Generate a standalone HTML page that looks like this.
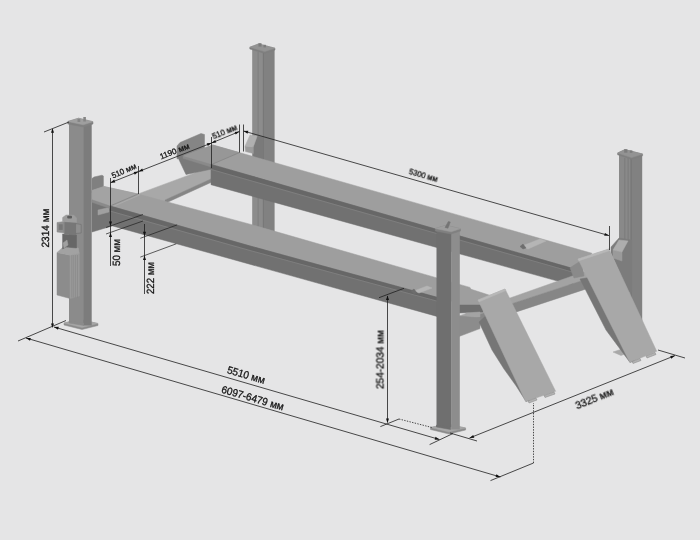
<!DOCTYPE html>
<html lang="ru">
<head>
<meta charset="utf-8">
<title>4-post lift dimensions</title>
<style>
html,body{margin:0;padding:0;background:#e5e5e6;}
body{width:700px;height:540px;overflow:hidden;font-family:"Liberation Sans",sans-serif;}
svg{display:block;-webkit-font-smoothing:antialiased;text-rendering:geometricPrecision;}
</style>
</head>
<body>
<svg width="700" height="540" viewBox="0 0 700 540" font-family="'Liberation Sans', sans-serif">
<rect width="700" height="540" fill="#e5e5e6"/>
<rect x="252.2" y="49.0" width="11.6" height="184.0" fill="#8c8c8c" />
<rect x="263.3" y="50.0" width="11.3" height="183.0" fill="#818181" />
<rect x="257.6" y="52.0" width="1.0" height="181.0" fill="#7e7e7e" />
<rect x="262.8" y="52.0" width="1.1" height="181.0" fill="#777777" />
<polygon points="249.8,47.2 258.6,43.9 275.0,48.2 275.0,50.0 264.6,53.4 249.8,49.0" fill="#7f7f7f" stroke="#7f7f7f" stroke-width="0.5" stroke-linejoin="round"/>
<polygon points="249.8,47.2 258.6,43.9 275.0,48.2 264.6,51.6" fill="#939393" stroke="#939393" stroke-width="0.5" stroke-linejoin="round"/>
<rect x="258.5" y="43.2" width="3.0" height="3.4" fill="#7c7c7c" />
<rect x="263.5" y="44.8" width="2.4" height="2.6" fill="#7c7c7c" />
<polygon points="253.3,146.7 257.2,136.1 263.3,137.0 263.3,162.0 253.3,159.0" fill="#7a7a7a" stroke="#7a7a7a" stroke-width="0.5" stroke-linejoin="round"/>
<polygon points="245.0,146.1 253.3,146.7 253.3,153.5 245.5,151.5" fill="#9c9c9c" stroke="#9c9c9c" stroke-width="0.5" stroke-linejoin="round"/>
<polygon points="245.0,146.1 250.0,135.0 257.2,136.1 253.3,146.7" fill="#b0b0b0" stroke="#b0b0b0" stroke-width="0.5" stroke-linejoin="round"/>
<rect x="619.0" y="155.0" width="12.4" height="190.0" fill="#898989" />
<rect x="631.0" y="156.0" width="11.2" height="189.0" fill="#818181" />
<rect x="624.3" y="158.0" width="1.0" height="186.0" fill="#7b7b7b" />
<rect x="627.6" y="158.0" width="1.0" height="186.0" fill="#7b7b7b" />
<rect x="630.5" y="158.0" width="1.1" height="186.0" fill="#747474" />
<polygon points="617.6,153.0 625.0,149.6 642.6,154.0 642.6,155.8 631.5,159.3 617.6,154.8" fill="#7f7f7f" stroke="#7f7f7f" stroke-width="0.5" stroke-linejoin="round"/>
<polygon points="617.6,153.0 625.0,149.6 642.6,154.0 631.5,157.6" fill="#939393" stroke="#939393" stroke-width="0.5" stroke-linejoin="round"/>
<rect x="624.2" y="149.3" width="3.2" height="3.4" fill="#7c7c7c" />
<rect x="629.8" y="150.4" width="2.6" height="2.4" fill="#7c7c7c" />
<polygon points="611.0,247.0 619.0,238.0 632.0,240.0 632.0,292.0 628.0,292.0 611.0,253.0" fill="#7c7c7c" stroke="#7c7c7c" stroke-width="0.5" stroke-linejoin="round"/>
<polygon points="613.0,250.0 622.0,252.0 622.0,261.0 613.0,258.0" fill="#9a9a9a" stroke="#9a9a9a" stroke-width="0.5" stroke-linejoin="round"/>
<polygon points="613.0,250.0 619.0,240.0 628.0,241.0 622.0,252.0" fill="#adadad" stroke="#adadad" stroke-width="0.5" stroke-linejoin="round"/>
<polygon points="613.0,352.0 622.0,349.0 630.0,352.0 621.0,355.5" fill="#a8a8a8" stroke="#a8a8a8" stroke-width="0.5" stroke-linejoin="round"/>
<polygon points="177.0,146.0 180.0,142.5 201.0,133.5 204.5,134.5 204.5,149.0 177.0,159.0" fill="#858585" stroke="#858585" stroke-width="0.5" stroke-linejoin="round"/>
<polygon points="92.0,178.5 94.0,177.0 102.0,175.2 103.4,176.0 103.4,189.0 92.0,193.0" fill="#808080" stroke="#808080" stroke-width="0.5" stroke-linejoin="round"/>
<polygon points="132.0,196.2 211.0,166.9 213.0,178.0 165.0,200.0 150.0,215.0" fill="#a8a8a8" stroke="#a8a8a8" stroke-width="0.5" stroke-linejoin="round"/>
<polygon points="165.0,200.0 213.0,178.0 213.0,181.5 168.0,202.0 160.0,220.0" fill="#858585" stroke="#858585" stroke-width="0.5" stroke-linejoin="round"/>
<polygon points="177.0,155.5 184.0,155.0 212.0,164.0 212.0,169.0 186.0,174.5" fill="#7a7a7a" stroke="#7a7a7a" stroke-width="0.5" stroke-linejoin="round"/>
<polygon points="183.0,156.3 212.8,145.0 592.0,253.3 580.0,270.6" fill="#9e9e9e" stroke="#9e9e9e" stroke-width="0.5" stroke-linejoin="round"/>
<polygon points="183.0,156.3 212.8,145.0 239.4,152.6 211.5,164.5" fill="#979797" stroke="#979797" stroke-width="0.5" stroke-linejoin="round"/>
<line x1="211.5" y1="164.5" x2="239.4" y2="152.6" stroke="#858585" stroke-width="0.8" />
<polygon points="211.0,164.4 580.0,270.6 572.0,285.1 211.0,184.7" fill="#717171" stroke="#717171" stroke-width="0.5" stroke-linejoin="round"/>
<polygon points="183.0,156.3 211.0,164.4 211.0,166.9 183.0,158.3" fill="#8a8a8a" stroke="#8a8a8a" stroke-width="0.5" stroke-linejoin="round"/>
<polygon points="211.0,164.4 580.0,270.6 580.0,273.8 211.0,168.9" fill="#676767" stroke="#676767" stroke-width="0.5" stroke-linejoin="round"/>
<line x1="211.0" y1="169.4" x2="575.0" y2="272.8" stroke="#8a8a8a" stroke-width="0.6" />
<polygon points="522.0,246.0 540.0,239.0 546.0,241.0 528.0,249.0" fill="#b5b5b5" stroke="#b5b5b5" stroke-width="0.5" stroke-linejoin="round"/>
<polygon points="520.0,246.5 523.0,244.0 526.0,248.0 523.0,249.0" fill="#6d6d6d" stroke="#6d6d6d" stroke-width="0.5" stroke-linejoin="round"/>
<polygon points="455.0,317.4 612.0,262.0 612.0,270.8 455.0,322.4" fill="#a3a3a3" stroke="#a3a3a3" stroke-width="0.5" stroke-linejoin="round"/>
<polygon points="455.0,322.4 612.0,270.8 612.0,280.4 455.0,332.1" fill="#868686" stroke="#868686" stroke-width="0.5" stroke-linejoin="round"/>
<polygon points="570.0,267.8 582.0,260.0 584.0,276.0 574.0,278.0" fill="#8a8a8a" stroke="#8a8a8a" stroke-width="0.5" stroke-linejoin="round"/>
<polygon points="580.0,279.0 592.0,277.0 634.0,361.0 630.0,362.4 606.0,330.0" fill="#767676" stroke="#767676" stroke-width="0.5" stroke-linejoin="round"/>
<polygon points="578.0,259.0 609.0,249.0 656.7,351.3 629.8,362.4" fill="#a8a8a8" stroke="#a8a8a8" stroke-width="0.5" stroke-linejoin="round"/>
<polygon points="578.0,259.0 609.0,249.0 609.8,250.6 579.0,260.8" fill="#b8b8b8" stroke="#b8b8b8" stroke-width="0.5" stroke-linejoin="round"/>
<polygon points="632.0,361.5 640.0,358.5 641.0,360.5 633.0,363.5" fill="#b2b2b2" stroke="#858585" stroke-width="0.5"/>
<polygon points="646.0,356.0 655.0,352.5 656.0,354.5 647.0,358.0" fill="#b2b2b2" stroke="#858585" stroke-width="0.5"/>
<polygon points="92.0,200.0 110.0,206.0 112.0,226.0 92.0,232.0" fill="#747474" stroke="#747474" stroke-width="0.5" stroke-linejoin="round"/>
<polygon points="98.0,210.0 109.0,207.5 109.0,212.0 98.0,215.0" fill="#a0a0a0" stroke="#a0a0a0" stroke-width="0.5" stroke-linejoin="round"/>
<polygon points="92.0,190.5 104.0,186.5 138.0,194.0 250.0,224.2 470.0,287.4 480.0,309.1 250.0,246.0 110.0,206.0 92.0,199.8" fill="#9e9e9e" stroke="#9e9e9e" stroke-width="0.5" stroke-linejoin="round"/>
<polygon points="92.0,190.5 104.0,186.5 138.0,194.0 110.0,206.0 92.0,199.8" fill="#a3a3a3" stroke="#a3a3a3" stroke-width="0.5" stroke-linejoin="round"/>
<line x1="112.0" y1="206.9" x2="140.0" y2="194.8" stroke="#b0b0b0" stroke-width="0.7" />
<line x1="110.0" y1="206.0" x2="138.0" y2="194.0" stroke="#858585" stroke-width="0.8" />
<polygon points="110.0,206.0 250.0,246.0 437.0,297.3 437.0,316.4 110.0,225.2" fill="#717171" stroke="#717171" stroke-width="0.5" stroke-linejoin="round"/>
<polygon points="92.0,199.8 110.0,206.0 110.0,208.5 92.0,202.3" fill="#8a8a8a" stroke="#8a8a8a" stroke-width="0.5" stroke-linejoin="round"/>
<polygon points="110.0,206.0 250.0,246.0 437.0,297.3 437.0,300.7 250.0,250.0 110.0,210.5" fill="#676767" stroke="#676767" stroke-width="0.5" stroke-linejoin="round"/>
<line x1="110.0" y1="211.0" x2="250.0" y2="250.5" stroke="#8a8a8a" stroke-width="0.6" />
<line x1="250.0" y1="250.5" x2="437.0" y2="301.1" stroke="#8a8a8a" stroke-width="0.6" />
<polygon points="414.0,291.0 427.0,286.0 432.0,288.0 419.0,293.0" fill="#b5b5b5" stroke="#b5b5b5" stroke-width="0.5" stroke-linejoin="round"/>
<polygon points="411.0,291.0 414.0,289.0 417.0,293.0 414.0,294.0" fill="#6d6d6d" stroke="#6d6d6d" stroke-width="0.5" stroke-linejoin="round"/>
<polygon points="459.0,285.3 492.0,296.0 480.0,305.0 459.0,305.0" fill="#9e9e9e" stroke="#9e9e9e" stroke-width="0.5" stroke-linejoin="round"/>
<polygon points="459.0,305.0 483.0,305.0 483.0,312.0 459.0,313.0" fill="#6f6f6f" stroke="#6f6f6f" stroke-width="0.5" stroke-linejoin="round"/>
<polygon points="466.0,313.0 480.0,312.0 480.0,317.0 466.0,318.0" fill="#a3a3a3" stroke="#a3a3a3" stroke-width="0.5" stroke-linejoin="round"/>
<polygon points="459.0,316.0 480.0,318.0 480.0,328.6 459.0,336.5" fill="#8c8c8c" stroke="#8c8c8c" stroke-width="0.5" stroke-linejoin="round"/>
<polygon points="479.0,322.0 490.0,312.0 530.0,400.0 526.0,401.5 516.2,386.0 504.0,369.0 492.0,350.0" fill="#767676" stroke="#767676" stroke-width="0.5" stroke-linejoin="round"/>
<polygon points="478.0,300.0 505.0,289.0 555.6,391.3 525.6,401.5" fill="#a8a8a8" stroke="#a8a8a8" stroke-width="0.5" stroke-linejoin="round"/>
<polygon points="478.0,300.0 505.0,289.0 505.8,290.6 479.0,301.8" fill="#b8b8b8" stroke="#b8b8b8" stroke-width="0.5" stroke-linejoin="round"/>
<polygon points="528.0,401.0 536.0,398.0 537.0,400.0 529.0,403.0" fill="#b2b2b2" stroke="#858585" stroke-width="0.5"/>
<polygon points="544.0,395.5 554.0,392.0 555.0,394.0 545.0,397.5" fill="#b2b2b2" stroke="#858585" stroke-width="0.5"/>
<polygon points="64.0,323.0 80.0,319.5 98.0,323.5 98.0,325.5 82.0,329.5 64.0,325.0" fill="#8a8a8a" stroke="#8a8a8a" stroke-width="0.5" stroke-linejoin="round"/>
<polygon points="64.0,323.0 80.0,319.5 98.0,323.5 82.0,327.5" fill="#a6a6a6" stroke="#a6a6a6" stroke-width="0.5" stroke-linejoin="round"/>
<rect x="69.0" y="124.0" width="14.6" height="199.0" fill="#8b8b8b" />
<rect x="83.2" y="124.0" width="8.5" height="201.5" fill="#7c7c7c" />
<polygon points="69.0,323.0 83.5,325.5 83.5,323.0 69.0,321.0" fill="#8b8b8b" stroke="#8b8b8b" stroke-width="0.5" stroke-linejoin="round"/>
<polygon points="67.8,121.5 78.5,118.2 93.0,121.7 93.0,124.0 83.2,127.0 67.8,124.0" fill="#808080" stroke="#808080" stroke-width="0.5" stroke-linejoin="round"/>
<polygon points="67.8,121.5 78.5,118.2 93.0,121.7 83.2,124.8" fill="#9f9f9f" stroke="#9f9f9f" stroke-width="0.5" stroke-linejoin="round"/>
<rect x="77.5" y="119.0" width="2.8" height="3.0" fill="#858585" />
<rect x="83.3" y="117.0" width="2.6" height="4.5" fill="#858585" />
<polygon points="57.0,252.5 70.0,255.0 70.0,298.5 57.0,295.0" fill="#8c8c8c" stroke="#8c8c8c" stroke-width="0.5" stroke-linejoin="round"/>
<polygon points="70.0,255.0 79.3,253.0 79.3,296.0 70.0,298.5" fill="#9a9a9a" stroke="#9a9a9a" stroke-width="0.5" stroke-linejoin="round"/>
<line x1="71.8" y1="255.0" x2="71.8" y2="297.5" stroke="#858585" stroke-width="0.6" />
<line x1="73.7" y1="255.0" x2="73.7" y2="297.5" stroke="#858585" stroke-width="0.6" />
<line x1="75.6" y1="255.0" x2="75.6" y2="297.5" stroke="#858585" stroke-width="0.6" />
<line x1="77.5" y1="255.0" x2="77.5" y2="297.5" stroke="#858585" stroke-width="0.6" />
<polygon points="57.0,252.5 63.5,246.7 78.3,248.0 79.3,253.2 70.0,255.2" fill="#a2a2a2" stroke="#a2a2a2" stroke-width="0.5" stroke-linejoin="round"/>
<polygon points="62.6,234.0 76.5,235.0 76.5,248.0 66.0,247.0 62.6,249.0" fill="#676767" stroke="#676767" stroke-width="0.5" stroke-linejoin="round"/>
<polygon points="63.0,243.0 67.0,240.0 68.0,245.0 64.0,248.0" fill="#a0a0a0" stroke="#a0a0a0" stroke-width="0.5" stroke-linejoin="round"/>
<polygon points="57.0,222.5 64.4,221.5 64.4,233.0 57.0,232.0" fill="#8e8e8e" stroke="#8e8e8e" stroke-width="0.5" stroke-linejoin="round"/>
<rect x="58.7" y="224.3" width="4.0" height="5.6" fill="#777777" />
<polygon points="64.4,221.5 75.6,222.5 75.6,235.0 64.4,234.0" fill="#777777" stroke="#777777" stroke-width="0.5" stroke-linejoin="round"/>
<polygon points="75.6,223.5 81.2,224.5 81.2,233.0 75.6,233.5" fill="#8f8f8f" stroke="#6e6e6e" stroke-width="0.6"/>
<polygon points="62.6,217.5 66.0,215.0 74.0,215.3 76.5,218.0 76.5,222.5 62.6,221.5" fill="#9c9c9c" stroke="#9c9c9c" stroke-width="0.5" stroke-linejoin="round"/>
<rect x="67.2" y="215.8" width="4.8" height="2.8" fill="#5c5c5c" rx="1"/>
<polygon points="430.5,427.5 447.0,424.0 465.6,428.0 465.6,430.0 449.0,434.0 430.5,429.5" fill="#8a8a8a" stroke="#8a8a8a" stroke-width="0.5" stroke-linejoin="round"/>
<polygon points="430.5,427.5 447.0,424.0 465.6,428.0 449.0,432.0" fill="#a6a6a6" stroke="#a6a6a6" stroke-width="0.5" stroke-linejoin="round"/>
<rect x="436.5" y="231.0" width="15.0" height="196.0" fill="#6f6f6f" />
<rect x="451.2" y="231.0" width="8.6" height="198.5" fill="#8d8d8d" />
<polygon points="436.5,427.0 450.5,429.5 450.5,427.0 436.5,425.0" fill="#6f6f6f" stroke="#6f6f6f" stroke-width="0.5" stroke-linejoin="round"/>
<polygon points="435.3,228.5 446.0,225.3 460.5,228.7 460.5,231.0 451.2,234.0 435.3,231.0" fill="#808080" stroke="#808080" stroke-width="0.5" stroke-linejoin="round"/>
<polygon points="435.3,228.5 446.0,225.3 460.5,228.7 451.2,231.8" fill="#9d9d9d" stroke="#9d9d9d" stroke-width="0.5" stroke-linejoin="round"/>
<polygon points="445.0,227.5 448.3,221.5 450.3,222.0 448.0,228.2" fill="#747474" stroke="#747474" stroke-width="0.5" stroke-linejoin="round"/>
<line x1="52.5" y1="129.0" x2="52.5" y2="327.0" stroke="#1e1e1e" stroke-width="0.8" />
<polygon points="52.5,128.2 54.0,132.8 51.0,132.8" fill="#111" />
<polygon points="52.5,328.0 51.0,323.4 54.0,323.4" fill="#111" />
<line x1="44.0" y1="132.0" x2="69.0" y2="122.0" stroke="#1e1e1e" stroke-width="0.8" />
<line x1="18.0" y1="341.0" x2="66.0" y2="320.5" stroke="#1e1e1e" stroke-width="0.8" />
<line x1="54.0" y1="327.0" x2="439.5" y2="439.5" stroke="#1e1e1e" stroke-width="0.8" />
<polygon points="54.0,327.0 58.8,326.8 58.0,329.7" fill="#111" />
<polygon points="439.5,439.5 434.7,439.7 435.5,436.8" fill="#111" />
<line x1="429.6" y1="444.6" x2="453.0" y2="433.5" stroke="#1e1e1e" stroke-width="0.8" />
<line x1="26.0" y1="338.0" x2="500.4" y2="477.0" stroke="#1e1e1e" stroke-width="0.8" />
<polygon points="26.0,338.0 30.8,337.9 30.0,340.7" fill="#111" />
<polygon points="500.4,477.0 495.6,477.1 496.4,474.3" fill="#111" />
<line x1="490.5" y1="480.6" x2="533.5" y2="463.0" stroke="#1e1e1e" stroke-width="0.8" />
<line x1="533.5" y1="463.0" x2="533.5" y2="403.0" stroke="#1e1e1e" stroke-width="0.8" stroke-dasharray="1.4 1.3"/>
<line x1="469.5" y1="438.0" x2="675.0" y2="355.6" stroke="#1e1e1e" stroke-width="0.8" />
<polygon points="469.5,438.0 473.2,434.9 474.3,437.7" fill="#111" />
<polygon points="675.0,355.6 671.3,358.7 670.2,355.9" fill="#111" />
<line x1="450.0" y1="433.0" x2="477.0" y2="441.0" stroke="#1e1e1e" stroke-width="0.8" />
<line x1="658.0" y1="350.0" x2="685.0" y2="358.0" stroke="#1e1e1e" stroke-width="0.8" />
<line x1="387.5" y1="296.0" x2="387.5" y2="422.5" stroke="#1e1e1e" stroke-width="0.8" />
<polygon points="387.5,295.4 389.0,300.0 386.0,300.0" fill="#111" />
<polygon points="387.5,423.0 386.0,418.4 389.0,418.4" fill="#111" />
<line x1="379.0" y1="297.7" x2="404.0" y2="288.3" stroke="#1e1e1e" stroke-width="0.8" />
<line x1="380.4" y1="426.6" x2="399.0" y2="419.0" stroke="#1e1e1e" stroke-width="0.8" />
<line x1="399.0" y1="419.0" x2="432.0" y2="427.5" stroke="#1e1e1e" stroke-width="0.8" stroke-dasharray="1.4 1.3"/>
<line x1="243.5" y1="131.0" x2="609.0" y2="235.6" stroke="#1e1e1e" stroke-width="0.8" />
<polygon points="243.5,131.0 248.3,130.8 247.5,133.7" fill="#111" />
<polygon points="609.0,235.6 604.2,235.8 605.0,232.9" fill="#111" />
<line x1="609.5" y1="226.0" x2="609.5" y2="250.0" stroke="#1e1e1e" stroke-width="0.8" />
<line x1="243.5" y1="124.5" x2="243.5" y2="151.5" stroke="#1e1e1e" stroke-width="0.8" />
<line x1="211.5" y1="143.0" x2="239.4" y2="131.5" stroke="#1e1e1e" stroke-width="0.8" />
<polygon points="211.5,143.0 215.2,139.9 216.3,142.6" fill="#111" />
<polygon points="239.4,131.5 235.7,134.6 234.6,131.9" fill="#111" />
<line x1="239.5" y1="124.5" x2="239.5" y2="152.5" stroke="#1e1e1e" stroke-width="0.8" />
<line x1="211.5" y1="137.0" x2="211.5" y2="168.0" stroke="#1e1e1e" stroke-width="0.8" />
<line x1="138.5" y1="171.6" x2="211.5" y2="143.0" stroke="#1e1e1e" stroke-width="0.8" />
<polygon points="138.5,171.6 142.2,168.5 143.3,171.3" fill="#111" />
<polygon points="211.5,143.0 207.8,146.1 206.7,143.3" fill="#111" />
<line x1="110.5" y1="182.7" x2="138.5" y2="171.6" stroke="#1e1e1e" stroke-width="0.8" />
<polygon points="110.5,182.7 114.2,179.6 115.3,182.4" fill="#111" />
<polygon points="138.5,171.6 134.8,174.7 133.7,171.9" fill="#111" />
<line x1="138.5" y1="166.0" x2="138.5" y2="194.0" stroke="#1e1e1e" stroke-width="0.8" />
<line x1="110.5" y1="178.0" x2="110.5" y2="266.0" stroke="#1e1e1e" stroke-width="0.8" />
<polygon points="110.5,226.0 109.0,221.4 112.0,221.4" fill="#111" />
<polygon points="110.5,232.5 112.0,237.1 109.0,237.1" fill="#111" />
<line x1="106.0" y1="227.5" x2="143.0" y2="214.5" stroke="#1e1e1e" stroke-width="0.7" />
<line x1="106.0" y1="234.0" x2="143.0" y2="221.0" stroke="#1e1e1e" stroke-width="0.7" />
<line x1="144.5" y1="224.0" x2="144.5" y2="294.0" stroke="#1e1e1e" stroke-width="0.8" />
<polygon points="144.5,236.4 143.0,231.8 146.0,231.8" fill="#111" />
<polygon points="144.5,255.4 146.0,260.0 143.0,260.0" fill="#111" />
<line x1="140.3" y1="238.3" x2="177.1" y2="224.9" stroke="#1e1e1e" stroke-width="0.7" />
<line x1="140.3" y1="257.1" x2="176.3" y2="243.8" stroke="#1e1e1e" stroke-width="0.7" />
<g style="opacity:0.999">
<text x="0" y="0" transform="translate(45.5 228.0) rotate(-90.0)" font-size="10.5" text-anchor="middle" dominant-baseline="central" fill="#141414" stroke="#141414" stroke-width="0.3" textLength="39.0" lengthAdjust="spacingAndGlyphs">2314 мм</text>
<text x="0" y="0" transform="translate(117.0 252.5) rotate(-90.0)" font-size="10.5" text-anchor="middle" dominant-baseline="central" fill="#141414" stroke="#141414" stroke-width="0.3" textLength="27.0" lengthAdjust="spacingAndGlyphs">50 мм</text>
<text x="0" y="0" transform="translate(151.0 278.0) rotate(-90.0)" font-size="10.5" text-anchor="middle" dominant-baseline="central" fill="#141414" stroke="#141414" stroke-width="0.3" textLength="32.0" lengthAdjust="spacingAndGlyphs">222 мм</text>
<text x="0" y="0" transform="translate(124.0 171.0) rotate(-23.0)" font-size="8" text-anchor="middle" dominant-baseline="central" fill="#141414" stroke="#141414" stroke-width="0.3" textLength="26.0" lengthAdjust="spacingAndGlyphs">510 мм</text>
<text x="0" y="0" transform="translate(174.5 151.5) rotate(-21.0)" font-size="8" text-anchor="middle" dominant-baseline="central" fill="#141414" stroke="#141414" stroke-width="0.3" textLength="31.0" lengthAdjust="spacingAndGlyphs">1190 мм</text>
<text x="0" y="0" transform="translate(224.5 131.5) rotate(-22.0)" font-size="8" text-anchor="middle" dominant-baseline="central" fill="#141414" stroke="#141414" stroke-width="0.3" textLength="26.0" lengthAdjust="spacingAndGlyphs">510 мм</text>
<text x="0" y="0" transform="translate(423.5 175.0) rotate(16.0)" font-size="8" text-anchor="middle" dominant-baseline="central" fill="#141414" stroke="#141414" stroke-width="0.3" textLength="29.5" lengthAdjust="spacingAndGlyphs">5300 мм</text>
<text x="0" y="0" transform="translate(246.0 375.5) rotate(16.3)" font-size="10.5" text-anchor="middle" dominant-baseline="central" fill="#141414" stroke="#141414" stroke-width="0.3" textLength="39.0" lengthAdjust="spacingAndGlyphs">5510 мм</text>
<text x="0" y="0" transform="translate(252.5 398.6) rotate(16.3)" font-size="10.5" text-anchor="middle" dominant-baseline="central" fill="#141414" stroke="#141414" stroke-width="0.3" textLength="64.5" lengthAdjust="spacingAndGlyphs">6097-6479 мм</text>
<text x="0" y="0" transform="translate(380.5 359.5) rotate(-90.0)" font-size="10.5" text-anchor="middle" dominant-baseline="central" fill="#141414" stroke="#141414" stroke-width="0.3" textLength="59.0" lengthAdjust="spacingAndGlyphs">254-2034 мм</text>
<text x="0" y="0" transform="translate(594.5 399.0) rotate(-21.8)" font-size="10.5" text-anchor="middle" dominant-baseline="central" fill="#141414" stroke="#141414" stroke-width="0.3" textLength="40.0" lengthAdjust="spacingAndGlyphs">3325 мм</text>
</g>
</svg>
</body>
</html>
